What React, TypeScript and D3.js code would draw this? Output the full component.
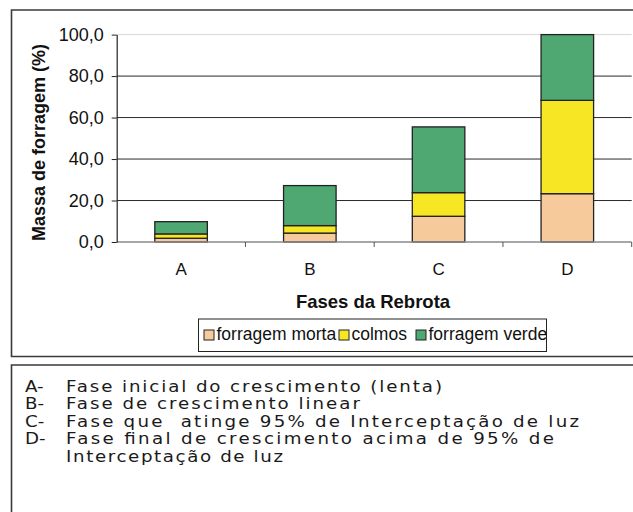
// App.tsx
import React, { useEffect, useRef } from 'react';
import * as d3 from 'd3';

const categories = ['A', 'B', 'C', 'D'];
const forragemMorta = [1.8, 4.3, 12.4, 23.3];
const colmos = [2.1, 3.6, 11.4, 45.0];
const forragemVerde = [5.9, 19.3, 31.7, 31.7];
const seriesNames = ['forragem morta', 'colmos', 'forragem verde'];
const yTicks = [0, 20, 40, 60, 80, 100];

const descLabels = ['A-', 'B-', 'C-', 'D-', ''];
const descLines = [
  'Fase inicial do crescimento (lenta)',
  'Fase de crescimento linear',
  'Fase que  atinge 95% de Interceptação de luz',
  'Fase final de crescimento acima de 95% de',
  'Interceptação de luz',
];
// measured widths of the caption lines in the reference
const descWidths = [376, 294, 513, 488, 217];

const colors = ['#f7ca9c', '#f7e623', '#4fa872'];
const legendX = [204, 339, 416];

const App: React.FC = () => {
  const chartRef = useRef<SVGSVGElement | null>(null);

  useEffect(() => {
    drawChart();
  }, []);

  const drawChart = () => {
    d3.select(chartRef.current).selectAll('*').remove();
    const svg = d3.select(chartRef.current);
    const font = 'Liberation Sans, Arial, sans-serif';

    const plot = { left: 116.7, right: 631.7, top: 34.6, bottom: 242 };

    const rows = categories.map((c, i) => ({
      cat: c,
      morta: forragemMorta[i],
      colmos: colmos[i],
      verde: forragemVerde[i],
    }));
    const keys = ['morta', 'colmos', 'verde'];
    const stacked = d3.stack<any>().keys(keys)(rows);

    const x = d3
      .scaleBand()
      .domain(categories)
      .range([plot.left, plot.right])
      .paddingInner(0.592)
      .paddingOuter(0.296);

    const y = d3.scaleLinear().domain([0, 100]).range([plot.bottom, plot.top]);

    // Outer frames
    svg.append('path')
      .attr('d', `M700,10 H11.5 V356.5 H700`)
      .attr('fill', 'none')
      .attr('stroke', '#3a3a3a')
      .attr('stroke-width', 1.6);

    svg.append('path')
      .attr('d', `M700,365 H11.5 V600`)
      .attr('fill', 'none')
      .attr('stroke', '#3a3a3a')
      .attr('stroke-width', 1.6);

    // Gridlines
    svg.append('g')
      .selectAll('line')
      .data(yTicks.filter((t) => t > 0))
      .join('line')
      .attr('x1', plot.left)
      .attr('x2', plot.right)
      .attr('y1', (d) => y(d))
      .attr('y2', (d) => y(d))
      .attr('stroke', (d) => (d === 100 ? '#d8d8d8' : '#2a2a2a'))
      .attr('stroke-width', 1);

    // Bars
    svg.append('g')
      .selectAll('g')
      .data(stacked)
      .join('g')
      .attr('fill', (_, i) => colors[i])
      .selectAll('rect')
      .data((d) => d)
      .join('rect')
      .attr('x', (d: any) => x(d.data.cat) as number)
      .attr('width', x.bandwidth())
      .attr('y', (d) => y(d[1]))
      .attr('height', (d) => y(d[0]) - y(d[1]))
      .attr('stroke', '#222')
      .attr('stroke-width', 1.3);

    // X axis
    svg.append('line')
      .attr('x1', plot.left)
      .attr('x2', plot.right)
      .attr('y1', plot.bottom)
      .attr('y2', plot.bottom)
      .attr('stroke', '#8a8a8a')
      .attr('stroke-width', 1.6);

    const boundaries = categories.map(
      (c) => (x(c) as number) + x.bandwidth() + (x.step() - x.bandwidth()) / 2
    );
    svg.append('g')
      .selectAll('line')
      .data(boundaries)
      .join('line')
      .attr('x1', (d) => d)
      .attr('x2', (d) => d)
      .attr('y1', plot.bottom)
      .attr('y2', plot.bottom + 5)
      .attr('stroke', '#555')
      .attr('stroke-width', 1);

    svg.append('g')
      .selectAll('text')
      .data(categories)
      .join('text')
      .attr('x', (d) => (x(d) as number) + x.bandwidth() / 2)
      .attr('y', 275)
      .attr('text-anchor', 'middle')
      .style('font-family', font)
      .style('font-size', '17px')
      .attr('fill', '#111')
      .text((d) => d);

    // Y axis
    const yAxis = svg.append('g')
      .attr('transform', `translate(${plot.left},0)`)
      .call(
        d3.axisLeft(y)
          .tickValues(yTicks)
          .tickSize(5)
          .tickSizeOuter(0)
          .tickPadding(8)
          .tickFormat((d) => d3.format('.1f')(d as number).replace('.', ','))
      );
    yAxis.select('.domain').attr('stroke', '#222').attr('stroke-width', 1.2);
    yAxis.selectAll('.tick line').attr('stroke', '#222');
    yAxis.selectAll('.tick text')
      .style('font-family', font)
      .style('font-size', '18px')
      .attr('fill', '#111');

    // Axis titles
    svg.append('text')
      .attr('transform', `translate(45,142.5) rotate(-90)`)
      .attr('text-anchor', 'middle')
      .style('font-family', font)
      .style('font-size', '18px')
      .style('font-weight', 'bold')
      .attr('fill', '#111')
      .text('Massa de forragem (%)');

    svg.append('text')
      .attr('x', 373)
      .attr('y', 308.3)
      .attr('text-anchor', 'middle')
      .style('font-family', font)
      .style('font-size', '18.5px')
      .style('font-weight', 'bold')
      .attr('fill', '#111')
      .text('Fases da Rebrota');

    // Legend
    svg.append('rect')
      .attr('x', 198.5)
      .attr('y', 319)
      .attr('width', 348)
      .attr('height', 32.5)
      .attr('fill', 'none')
      .attr('stroke', '#222')
      .attr('stroke-width', 1);

    const legend = svg.append('g')
      .selectAll('g')
      .data(seriesNames)
      .join('g')
      .attr('transform', (_, i) => `translate(${legendX[i]},330)`);
    legend.append('rect')
      .attr('width', 10)
      .attr('height', 10)
      .attr('fill', (_, i) => colors[i])
      .attr('stroke', '#222')
      .attr('stroke-width', 1);
    legend.append('text')
      .attr('x', 12.5)
      .attr('y', 10.3)
      .style('font-family', font)
      .style('font-size', '17.5px')
      .attr('fill', '#111')
      .text((d) => d);

    // Caption (the reference font is a wide face, so stretch DejaVu a bit)
    const stretch = 1.2;
    const caption = svg.append('g')
      .selectAll('g')
      .data(descLines)
      .join('g')
      .attr('transform', (_, i) => `translate(0,${392 + i * 17.4}) scale(${stretch},1)`);
    caption.append('text')
      .attr('x', 25 / stretch)
      .style('font-family', 'DejaVu Sans, sans-serif')
      .style('font-size', '15.2px')
      .attr('fill', '#1a1a1a')
      .text((_, i) => descLabels[i]);
    caption.append('text')
      .attr('x', 66 / stretch)
      .style('font-family', 'DejaVu Sans, sans-serif')
      .style('font-size', '15.2px')
      .style('white-space', 'pre')
      .attr('fill', '#1a1a1a')
      .attr('textLength', (_, i) => descWidths[i] / stretch)
      .attr('lengthAdjust', 'spacing')
      .text((d) => d);
  };

  return (
    <svg
      ref={chartRef}
      width={633}
      height={512}
      style={{ position: 'absolute', left: 0, top: 0, background: '#fff' }}
    ></svg>
  );
};

export default App;
